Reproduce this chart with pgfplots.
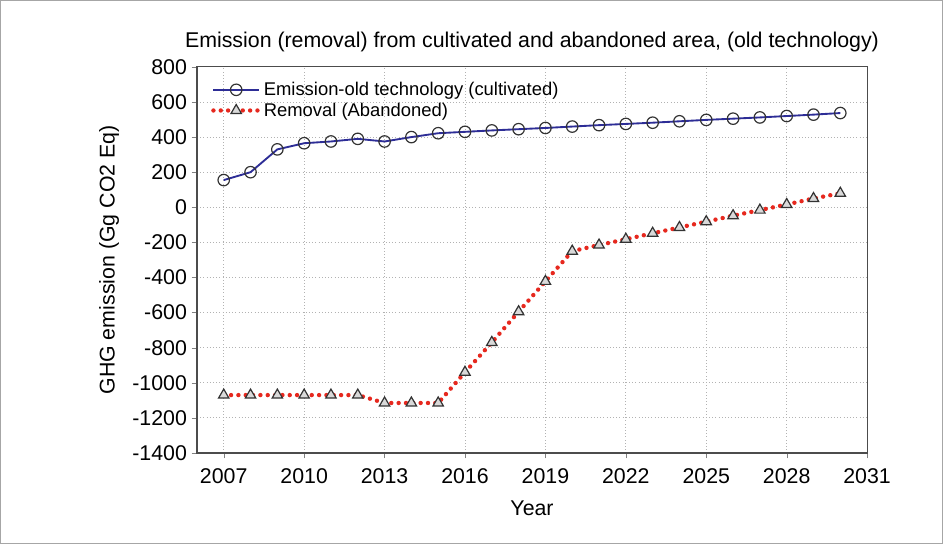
\documentclass[border=0pt]{standalone}
\usepackage{pgfplots}
\pgfplotsset{compat=1.18}
\usepackage{fontspec}
\setmainfont{Liberation Sans}
\definecolor{emisblue}{RGB}{45,45,150}
\definecolor{remred}{RGB}{230,40,30}
\begin{document}
\begin{tikzpicture}
  \begin{axis}[
    scale only axis,
    width=502.5pt,
    height=289.5pt,
    xmin=2006, xmax=2031,
    ymin=-1400, ymax=800,
    xtick={2007,2010,...,2031},
    ytick={-1400,-1200,...,800},
    /pgf/number format/.cd, 1000 sep={}, assume math mode=true,
    /pgfplots/.cd,
    tick align=outside,
    tick pos=left,
    major tick length=4pt,
    axis line style={black!70, line width=0.9pt},
    xmajorgrids=true,
    ymajorgrids=true,
    grid style={dotted, gray!60, line width=0.6pt},
    tick label style={font=\fontsize{16}{17}\selectfont},
    xticklabel style={yshift=-4pt},
    label style={font=\fontsize{16}{17}\selectfont},
    xlabel={Year},
    ylabel={GHG emission (Gg CO2 Eq)},
    xlabel style={yshift=-6pt},
    ylabel style={yshift=3pt},
    title={Emission (removal) from cultivated and abandoned area, (old technology)},
    title style={font=\fontsize{16}{17}\selectfont, yshift=2pt},
    legend style={at={(0.015,0.975)}, anchor=north west, draw=none, fill=none,
      font=\fontsize{13.8}{15}\selectfont, row sep=0pt,
      /tikz/every even column/.append style={column sep=4pt}},
    legend cell align=left,
    legend image code/.code={%
      \draw[mark repeat=2, mark phase=2]
        plot coordinates {(0cm,0cm) (0.6cm,0cm) (1.2cm,0cm)};},
  ]
    \addplot[emisblue, line width=1.4pt,
      mark=o, mark size=4.3pt, mark options={draw=black!80, fill=white, line width=0.9pt}]
      coordinates {
      (2007,155) (2008,200) (2009,330) (2010,365) (2011,375) (2012,390)
      (2013,375) (2014,400) (2015,422) (2016,430) (2017,438) (2018,445)
      (2019,452) (2020,460) (2021,468) (2022,475) (2023,482) (2024,490)
      (2025,498) (2026,505) (2027,512) (2028,520) (2029,528) (2030,537)
      };
    \addlegendentry{Emission-old technology (cultivated)}
    \addplot[remred, line width=3.3pt, line cap=round, dash pattern=on 0pt off 5.5pt,
      mark=triangle*, mark size=4.5pt,
      mark options={solid, draw=black!80, fill=gray!30, line width=0.9pt}]
      coordinates {
      (2007,-1070) (2008,-1070) (2009,-1070) (2010,-1070) (2011,-1070) (2012,-1070)
      (2013,-1115) (2014,-1115) (2015,-1115) (2016,-940) (2017,-770) (2018,-595)
      (2019,-422) (2020,-250) (2021,-215) (2022,-182) (2023,-148) (2024,-115)
      (2025,-82) (2026,-48) (2027,-16) (2028,16) (2029,50) (2030,80)
      };
    \addlegendentry{Removal (Abandoned)}
  \end{axis}
  \draw[gray!70, line width=0.8pt] (-147.25pt,-67.75pt) rectangle (559pt,339.25pt);
\end{tikzpicture}
\end{document}
